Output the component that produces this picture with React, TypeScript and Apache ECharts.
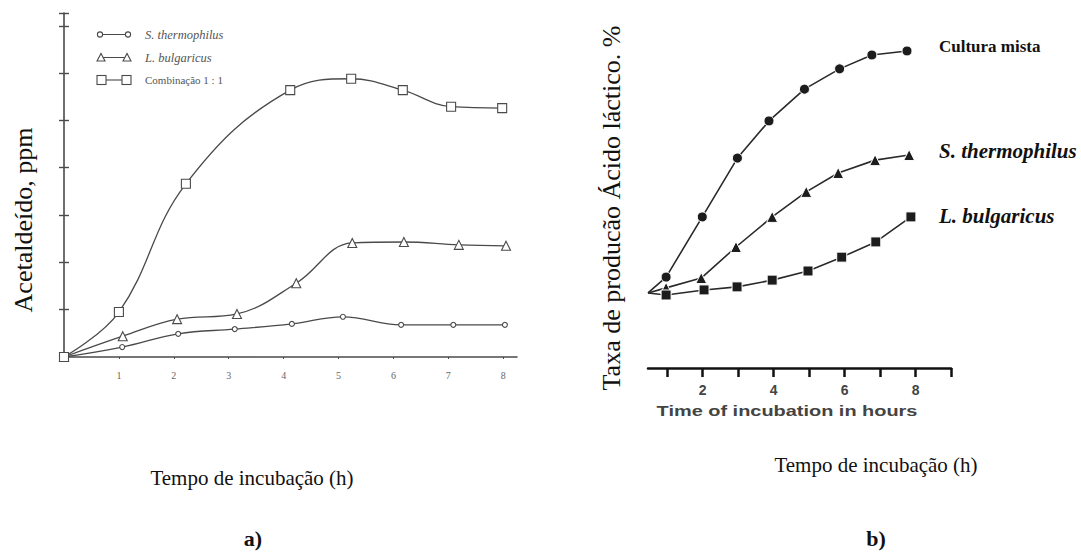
import React, { useEffect, useRef } from "react";
import * as echarts from "echarts";

// ---- Panel a) data: [hours, acetaldehyde ppm] ----
const thermophilusA: number[][] = [[0, 0], [1.06, 0.21], [2.08, 0.49], [3.11, 0.59], [4.15, 0.7], [5.08, 0.85], [6.14, 0.68], [7.09, 0.68], [8.03, 0.68]];
const bulgaricusA: number[][] = [[0, 0], [1.07, 0.44], [2.06, 0.8], [3.15, 0.91], [4.23, 1.56], [5.25, 2.41], [6.19, 2.43], [7.19, 2.37], [8.05, 2.35]];
const combinacaoA: number[][] = [[0, 0], [1.0, 0.95], [2.22, 3.66], [4.12, 5.64], [5.23, 5.88], [6.17, 5.64], [7.05, 5.29], [7.98, 5.26]];
const legendNamesA = ["S. thermophilus", "L. bulgaricus", "Combinação 1 : 1"];
const xTicksA = [1, 2, 3, 4, 5, 6, 7, 8];

// ---- Panel b) data: [hours, lactic acid (relative)] ----
const startB = [0.46, 22.2];
const culturaMistaB: number[][] = [[0.97, 26.9], [1.99, 44.7], [2.98, 62.1], [3.87, 73.1], [4.87, 82.5], [5.86, 88.5], [6.77, 92.6], [7.76, 93.8]];
const thermophilusB: number[][] = [[0.97, 23.7], [1.96, 26.6], [2.94, 35.8], [3.96, 44.7], [4.92, 52.1], [5.82, 57.7], [6.86, 61.5], [7.82, 63.0]];
const bulgaricusB: number[][] = [[0.97, 21.6], [2.04, 23.1], [2.97, 24.0], [3.96, 26.0], [4.97, 28.7], [5.92, 32.8], [6.88, 37.3], [7.87, 44.7]];
const xTicksB = [1, 2, 3, 4, 5, 6, 7, 8, 9];
const xLabelsB = [2, 4, 6, 8];
const seriesNamesB = ["Cultura mista", "S. thermophilus ", "L. bulgaricus "];

const SERIF = '"Liberation Serif", "Times New Roman", serif';
const SANS = '"Liberation Sans", Arial, sans-serif';
const GRAY_A = "#4a4a4a";

function withStart(arr: number[][]) {
  return [{ value: startB, symbol: "none" }, ...arr.map((p) => ({ value: p }))];
}

function legendIcon(kind: "circle" | "triangle" | "rect") {
  const st = `fill="#fff" stroke="${GRAY_A}" stroke-width="1.1"`;
  let marks = "";
  if (kind === "circle") {
    marks = `<circle cx="4" cy="6" r="2.6" ${st}/><circle cx="32" cy="6" r="2.6" ${st}/>`;
  } else if (kind === "triangle") {
    marks = `<polygon points="1,9.5 5,2 9,9.5" ${st}/><polygon points="27,9.5 31,2 35,9.5" ${st}/>`;
  } else {
    marks = `<rect x="1" y="1.5" width="9" height="9" ${st}/><rect x="26" y="1.5" width="9" height="9" ${st}/>`;
  }
  const line = `<line x1="6" y1="6" x2="30" y2="6" stroke="${GRAY_A}" stroke-width="1.1"/>`;
  const svg = `<svg xmlns="http://www.w3.org/2000/svg" width="36" height="12" viewBox="0 0 36 12">${line}${marks}</svg>`;
  return "image://data:image/svg+xml;charset=utf-8," + encodeURIComponent(svg);
}

export default function App() {
  const ref = useRef<HTMLDivElement>(null);
  useEffect(() => {
    if (!ref.current) return;
    const chart = echarts.init(ref.current, null, { renderer: "svg" });
    const hollow = (size: number, symbol: string) => ({
      symbol,
      symbolSize: size,
      itemStyle: { color: "#fff", borderColor: GRAY_A, borderWidth: 1.1 },
      lineStyle: { color: GRAY_A, width: 1.3 },
    });
    const solid = (size: number, symbol: string) => ({
      symbol,
      symbolSize: size,
      itemStyle: { color: "#1c1c1c", borderColor: "#fff", borderWidth: 1 },
      lineStyle: { color: "#2a2a2a", width: 1.6 },
    });
    chart.setOption({
      animation: false,
      backgroundColor: "#fff",
      grid: [
        { left: 64, top: 13, width: 453, height: 344 },
        { left: 648, top: 30, width: 303, height: 338 },
      ],
      legend: {
        orient: "vertical",
        left: 91,
        top: 23,
        itemWidth: 36,
        itemHeight: 12,
        itemGap: 10,
        data: [
          { name: legendNamesA[0], icon: legendIcon("circle"), textStyle: { fontStyle: "italic", fontSize: 12.5 } },
          { name: legendNamesA[1], icon: legendIcon("triangle"), textStyle: { fontStyle: "italic", fontSize: 12.5 } },
          { name: legendNamesA[2], icon: legendIcon("rect") },
        ],
        textStyle: { fontFamily: SERIF, fontSize: 11, color: "#555", padding: [0, 0, 0, 8], lineHeight: 12 },
      },
      xAxis: [
        {
          type: "value", gridIndex: 0, min: 0, max: 8.25,
          axisLine: { lineStyle: { color: GRAY_A, width: 1.6 } },
          axisTick: { customValues: xTicksA, length: 2, lineStyle: { color: GRAY_A } },
          axisLabel: { customValues: xTicksA, fontFamily: SERIF, fontSize: 10, color: "#666", margin: 13 },
          splitLine: { show: false },
        },
        {
          type: "value", gridIndex: 1, min: 0.46, max: 9,
          axisLine: { lineStyle: { color: "#111", width: 2.5 } },
          axisTick: { customValues: xTicksB, length: 9, lineStyle: { color: "#111", width: 2.5 } },
          axisLabel: { customValues: xLabelsB, fontFamily: SANS, fontWeight: "bold", fontSize: 14, color: "#444", margin: 15 },
          splitLine: { show: false },
        },
      ],
      yAxis: [
        {
          type: "value", gridIndex: 0, min: 0, max: 7.27, interval: 1,
          axisLine: { show: true, lineStyle: { color: GRAY_A, width: 1.6 } },
          axisTick: { show: true, length: 5, lineStyle: { color: GRAY_A, width: 1.4 } },
          axisLabel: { show: false },
          splitLine: { show: false },
        },
        {
          type: "value", gridIndex: 0, min: 0, max: 7.27, interval: 1, position: "left", offset: 0,
          axisLine: { show: false },
          axisTick: { show: true, inside: true, length: 5, lineStyle: { color: GRAY_A, width: 1.4 } },
          axisLabel: { show: false },
          splitLine: { show: false },
        },
        {
          type: "value", gridIndex: 1, min: 0, max: 100, show: false,
        },
      ],
      series: [
        { name: legendNamesA[0], type: "line", xAxisIndex: 0, yAxisIndex: 0, smooth: 0.4, data: thermophilusA, ...hollow(5, "circle") },
        { name: legendNamesA[1], type: "line", xAxisIndex: 0, yAxisIndex: 0, smooth: 0.4, data: bulgaricusA, ...hollow(9, "triangle") },
        { name: legendNamesA[2], type: "line", xAxisIndex: 0, yAxisIndex: 0, smooth: 0.4, data: combinacaoA, ...hollow(9, "rect") },
        { name: seriesNamesB[0], type: "line", xAxisIndex: 1, yAxisIndex: 2, data: withStart(culturaMistaB), ...solid(10, "circle") },
        { name: seriesNamesB[1], type: "line", xAxisIndex: 1, yAxisIndex: 2, data: withStart(thermophilusB), ...solid(11, "triangle") },
        { name: seriesNamesB[2], type: "line", xAxisIndex: 1, yAxisIndex: 2, data: withStart(bulgaricusB), ...solid(10, "rect") },
      ],
      graphic: [
        { type: "text", x: 23, y: 220, rotation: Math.PI / 2, style: { text: "Acetaldeído, ppm", font: `26px ${SERIF}`, fill: "#111", align: "center", verticalAlign: "middle" } },
        { type: "text", x: 611, y: 208, rotation: Math.PI / 2, style: { text: "Taxa de producão Ácido láctico. %", font: `26px ${SERIF}`, fill: "#111", align: "center", verticalAlign: "middle" } },
        { type: "text", x: 787, y: 411, scaleX: 1.33, style: { text: "Time of incubation in hours", font: `bold 15px ${SANS}`, fill: "#444", align: "center", verticalAlign: "middle" } },
        { type: "text", x: 252, y: 478, style: { text: "Tempo de incubação (h)", font: `21px ${SERIF}`, fill: "#111", align: "center", verticalAlign: "middle" } },
        { type: "text", x: 876, y: 465, style: { text: "Tempo de incubação (h)", font: `21px ${SERIF}`, fill: "#111", align: "center", verticalAlign: "middle" } },
        { type: "text", x: 253, y: 538, style: { text: "a)", font: `bold 22px ${SERIF}`, fill: "#111", align: "center", verticalAlign: "middle" } },
        { type: "text", x: 876, y: 538, style: { text: "b)", font: `bold 22px ${SERIF}`, fill: "#111", align: "center", verticalAlign: "middle" } },
        { type: "text", x: 939, y: 46, style: { text: "Cultura mista", font: `bold 17px ${SERIF}`, fill: "#111", align: "left", verticalAlign: "middle" } },
        { type: "text", x: 939, y: 151, style: { text: "S. thermophilus", font: `italic bold 21px ${SERIF}`, fill: "#111", align: "left", verticalAlign: "middle" } },
        { type: "text", x: 939, y: 216, style: { text: "L. bulgaricus", font: `italic bold 21px ${SERIF}`, fill: "#111", align: "left", verticalAlign: "middle" } },
      ],
    });
    return () => chart.dispose();
  }, []);
  return <div ref={ref} style={{ width: 1081, height: 553, position: "absolute", left: 0, top: 0 }} />;
}
